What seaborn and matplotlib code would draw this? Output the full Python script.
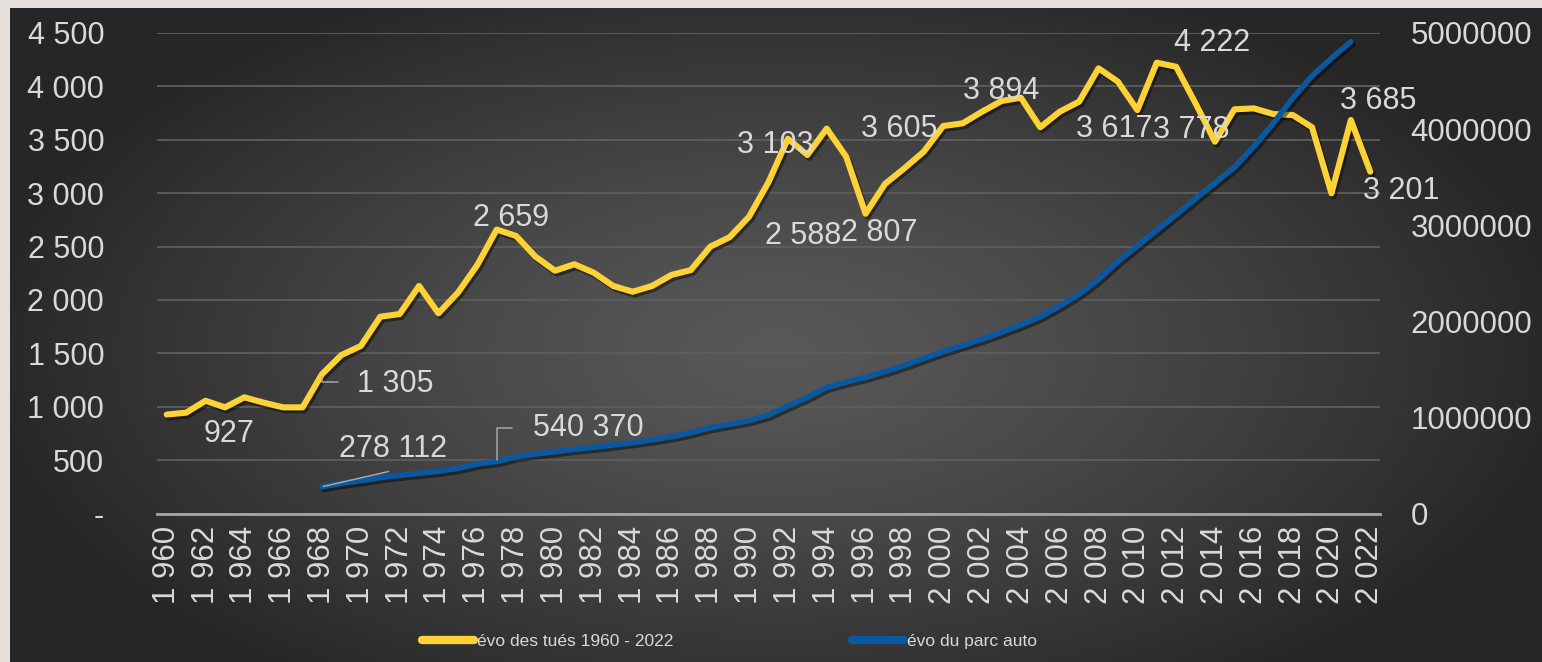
import numpy as np
import pandas as pd
import matplotlib
matplotlib.use("Agg")
import matplotlib.pyplot as plt
import matplotlib.patheffects as pe
from matplotlib.lines import Line2D
from matplotlib.ticker import FuncFormatter, MultipleLocator
import seaborn as sns

# categories
years = list(range(1960, 2023))

# road deaths per year (left axis)
tues = [927, 944, 1056, 994, 1088, 1038, 994, 994, 1305, 1484,
        1569, 1843, 1868, 2131, 1875, 2068, 2327, 2659, 2599, 2405,
        2274, 2334, 2255, 2131, 2077, 2131, 2234, 2280, 2499, 2588,
        2780, 3103, 3510, 3357, 3605, 3342, 2807, 3086, 3233, 3389,
        3629, 3654, 3763, 3863, 3894, 3617, 3763, 3857, 4169, 4044,
        3778, 4222, 4184, 3841, 3482, 3785, 3794, 3741, 3732, 3617,
        2999, 3685, 3201]

# car fleet (right axis), no data before 1968 nor for 2022
parc = [None] * 8 + [
        278112, 314000, 341000, 373000, 397000, 418000, 439000, 470000, 515000, 540370,
        591000, 619000, 643000, 668000, 689000, 713000, 737000, 765000, 799000, 841000,
        893000, 930000, 966000, 1025000, 1119000, 1209000, 1313000, 1368000, 1417000, 1476000,
        1542000, 1615000, 1684000, 1750000, 1813000, 1886000, 1962000, 2048000, 2159000, 2281000,
        2437000, 2620000, 2784000, 2947000, 3110000, 3276000, 3439000, 3602000, 3817000, 4060000,
        4320000, 4553000, 4737000, 4910000] + [None]

# labelled points
tues_labels = [1960, 1968, 1977, 1989, 1991, 1994, 1996, 2004, 2005, 2010, 2011, 2021, 2022]
parc_labels = [1968, 1977]

df = pd.DataFrame({"annee": years, "tues": tues, "parc": parc}).astype(float)

YELLOW = "#FDD237"
BLUE = "#0A58A0"
TXT = "#D9D9D9"


def sep(v):
    return f"{int(round(v)):,}".replace(",", " ")


plt.rcParams["font.family"] = ["Liberation Sans", "DejaVu Sans"]

fig = plt.figure(figsize=(15.42, 6.62), dpi=100, facecolor="#E6DFDC")

# dark radial background
bg = fig.add_axes([10 / 1542, 0, 1 - 10 / 1542, 1 - 8 / 662])
bg.axis("off")
gx, gy = np.meshgrid(np.linspace(-1, 1, 600), np.linspace(-1, 1, 300))
r = np.sqrt(((gx - 0.0) / 1.05) ** 2 + ((gy - 0.05) / 1.25) ** 2)
r = np.clip(r, 0, 1) ** 1.3
c0, c1 = 0x58 / 255, 0x26 / 255
img = c0 + (c1 - c0) * r
bg.imshow(np.dstack([img, img, img]), aspect="auto", extent=(0, 1, 0, 1))

ax = fig.add_axes([157 / 1542, 1 - 513.5 / 662, (1380 - 157) / 1542, 480.5 / 662])
ax.set_facecolor("none")
ax2 = ax.twinx()

shadow = [pe.SimpleLineShadow(offset=(1.5, -2), alpha=0.45, shadow_color="black"), pe.Normal()]

sns.lineplot(data=df, x="annee", y="tues", ax=ax, color=YELLOW, lw=4.4,
             estimator=None, legend=False)
sns.lineplot(data=df.dropna(), x="annee", y="parc", ax=ax2, color=BLUE, lw=4.0,
             estimator=None, legend=False)
for line in ax.lines + ax2.lines:
    line.set_path_effects(shadow)
    line.set_solid_capstyle("round")
    line.set_solid_joinstyle("round")

ax.set_xlim(1959.5, 2022.5)
ax.set_ylim(0, 4500)
ax2.set_ylim(0, 5000000)

ax.yaxis.set_major_locator(MultipleLocator(500))
ax.yaxis.set_major_formatter(FuncFormatter(lambda v, p: "-" if v == 0 else sep(v)))
ax2.yaxis.set_major_locator(MultipleLocator(1000000))
ax2.yaxis.set_major_formatter(FuncFormatter(lambda v, p: f"{int(v)}"))
ax.set_xticks(years[::2])
ax.set_xticklabels([sep(y) for y in years[::2]], rotation=90)

ax.grid(axis="y", color="#5E5E5E", lw=1.3)
ax.grid(axis="x", visible=False)
ax.set_axisbelow(True)
for a in (ax, ax2):
    for s in a.spines.values():
        s.set_visible(False)
    a.set_xlabel("")
    a.set_ylabel("")
ax.spines["bottom"].set_visible(True)
ax.spines["bottom"].set_color("#A6A6A6")
ax.spines["bottom"].set_linewidth(2)

ax.tick_params(axis="y", length=0, pad=38, labelsize=22, labelcolor=TXT)
ax.tick_params(axis="x", length=0, pad=9, labelsize=22.5, labelcolor=TXT)
ax2.tick_params(axis="y", length=0, pad=22, labelsize=22.5, labelcolor=TXT)

# data labels (offsets in points from the point)
t_off = {1960: (45, -14), 1968: (53, -7), 1977: (10, 8), 1989: (53, 1), 1991: (5, 27),
         1994: (52, 0), 1996: (10, -14), 2004: (-14, 5), 2005: (53, -1), 2010: (39, -14),
         2011: (40, 14), 2021: (20, 14), 2022: (22, -14)}
for y in tues_labels:
    v = tues[years.index(y)]
    ax.annotate(sep(v), (y, v), xytext=t_off[y], textcoords="offset points",
                ha="center", va="center", fontsize=22, color=TXT, zorder=5)

p_off = {1968: (51, 27), 1977: (66, 24)}
for y in parc_labels:
    v = parc[years.index(y)]
    ax2.annotate(sep(v), (y, v), xytext=p_off[y], textcoords="offset points",
                 ha="center", va="center", fontsize=22, color=TXT, zorder=5)

# leader lines
lead = dict(arrowstyle="-", color="#A6A6A6", lw=1.1, shrinkA=0, shrinkB=1)
ax2.annotate("", (1968, parc[8]), xytext=(48, 11), textcoords="offset points", arrowprops=lead)
ax2.annotate("", (1977, parc[17]), xytext=(11, 24), textcoords="offset points",
             arrowprops=dict(lead, connectionstyle="angle,angleA=0,angleB=90,rad=0"))
ax.annotate("", (1968, tues[8]), xytext=(11.5, -6), textcoords="offset points",
            arrowprops=dict(lead, shrinkB=2, connectionstyle="angle,angleA=0,angleB=90,rad=0"))

handles = [Line2D([], [], color=YELLOW, lw=6, solid_capstyle="round"),
           Line2D([], [], color=BLUE, lw=6, solid_capstyle="round")]
fig.legend(handles, ["évo des tués 1960 - 2022", "évo du parc auto"],
           loc="center", bbox_to_anchor=(0.473, 1 - 641 / 662), ncol=2, frameon=False,
           fontsize=12.5, labelcolor=TXT, handlelength=3.0, handletextpad=0.15,
           columnspacing=10.3)

fig.savefig("out.png", dpi=100, facecolor=fig.get_facecolor())
